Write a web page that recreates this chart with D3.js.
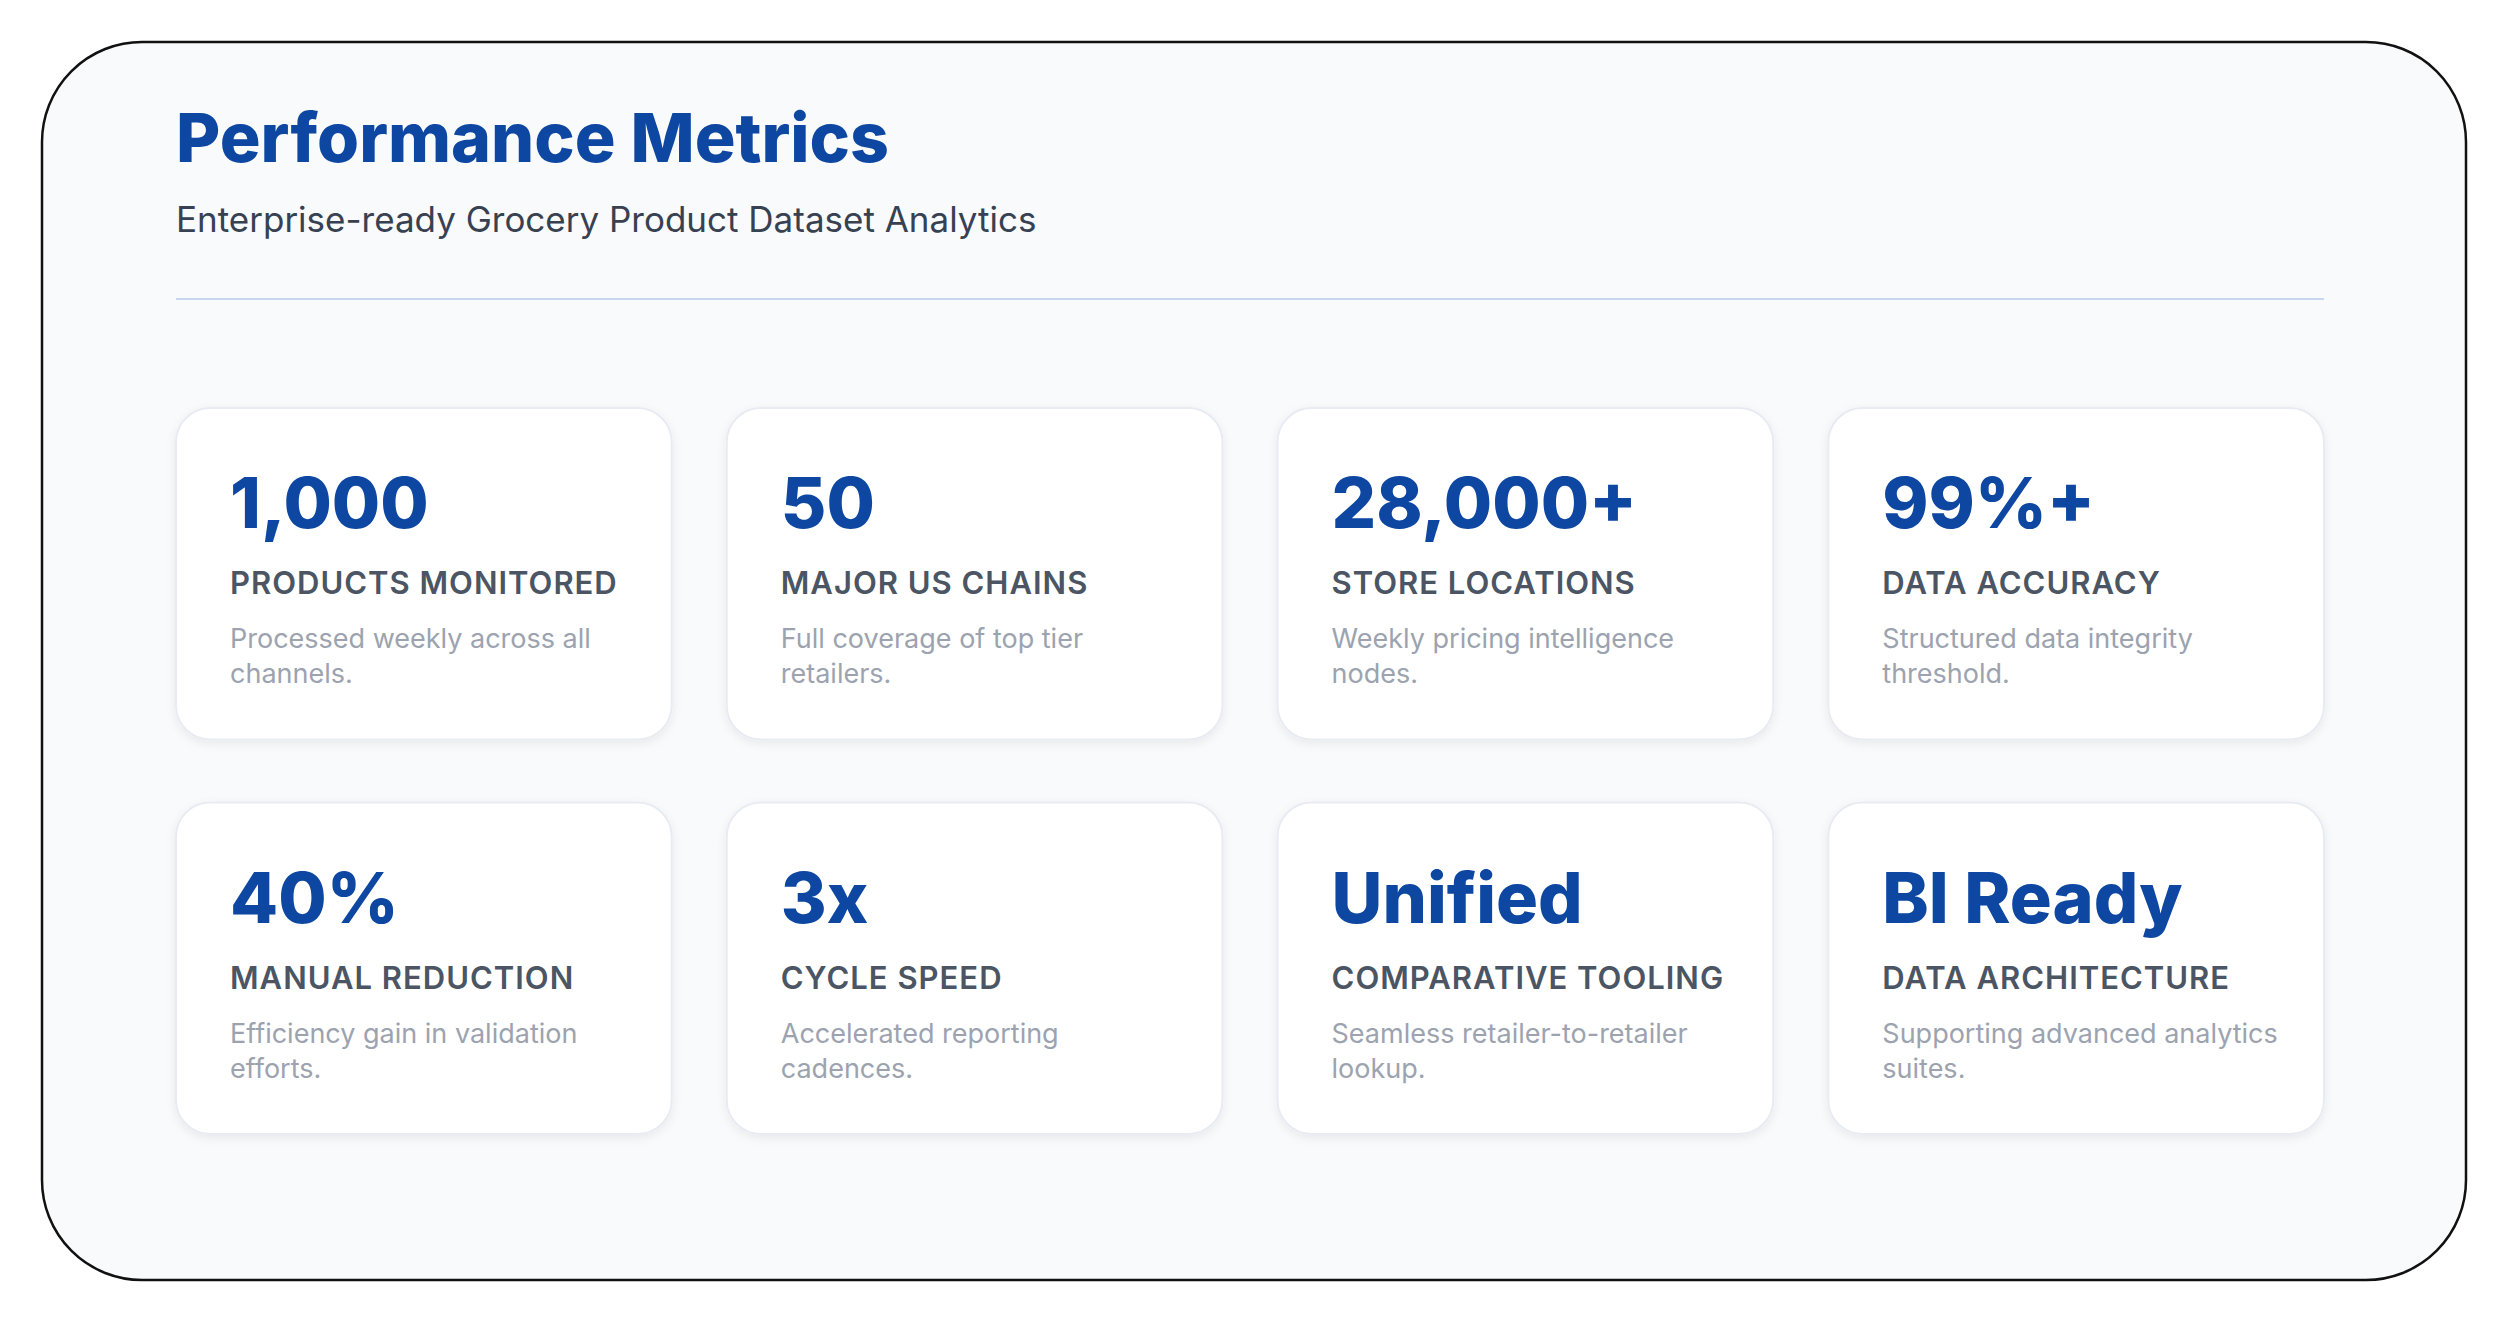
<!DOCTYPE html>
<html><head><meta charset="utf-8">
<script src="https://cdn.jsdelivr.net/npm/d3@7"></script>
<style>html,body{margin:0;padding:0;background:#fff;}svg{display:block;}</style>
</head><body>
<svg id="c" width="2509" height="1321"></svg>
<script>
const values = ["1,000","50","28,000+","99%+","40%","3x","Unified","BI Ready"];
const labels = ["PRODUCTS MONITORED","MAJOR US CHAINS","STORE LOCATIONS","DATA ACCURACY","MANUAL REDUCTION","CYCLE SPEED","COMPARATIVE TOOLING","DATA ARCHITECTURE"];
const descs = [["Processed weekly across all","channels."],["Full coverage of top tier","retailers."],["Weekly pricing intelligence","nodes."],["Structured data integrity","threshold."],["Efficiency gain in validation","efforts."],["Accelerated reporting","cadences."],["Seamless retailer-to-retailer","lookup."],["Supporting advanced analytics","suites."]];
const title = "Performance Metrics";
const subtitle = "Enterprise-ready Grocery Product Dataset Analytics";

const svg = d3.select("#c");
const F = "Inter, 'Noto Sans', sans-serif";
const defs = svg.append("defs");
const f = defs.append("filter").attr("id","sh").attr("x","-10%").attr("y","-10%").attr("width","120%").attr("height","130%");
f.append("feDropShadow").attr("dx",0).attr("dy",3).attr("stdDeviation",5).attr("flood-color","#0f172a").attr("flood-opacity",0.07);

svg.append("rect").attr("x",42).attr("y",42).attr("width",2424).attr("height",1238).attr("rx",100)
  .attr("fill","#f8fafc").attr("stroke","#111").attr("stroke-width",2.5);
svg.append("text").attr("x",176).attr("y",162).text(title).attr("font-family",F).attr("font-weight",800)
  .attr("font-size",68).attr("fill","#0d47a1");
svg.append("text").attr("x",176).attr("y",232).text(subtitle).attr("font-family",F).attr("font-weight",400)
  .attr("font-size",35).attr("fill","#374151");
svg.append("line").attr("x1",176).attr("x2",2324).attr("y1",299).attr("y2",299).attr("stroke","#c9d6ef").attr("stroke-width",2);

const x = d3.scaleBand().domain(d3.range(4)).range([176,2324]).paddingInner(0.1);
const y = d3.scaleBand().domain(d3.range(2)).range([408,1134]).paddingInner(0.16);
const cards = svg.selectAll("g.card").data(values.map((v,i)=>({v,l:labels[i],d:descs[i],c:i%4,r:Math.floor(i/4)})))
  .join("g").attr("class","card").attr("transform",d=>`translate(${x(d.c)},${y(d.r)})`);
cards.append("rect").attr("width",x.bandwidth()).attr("height",y.bandwidth()).attr("rx",34)
  .attr("fill","#fff").attr("stroke","#e8ecf2").attr("stroke-width",2).attr("filter","url(#sh)");
cards.append("text").attr("x",54).attr("y",120).text(d=>d.v).attr("font-family",F).attr("font-weight",800)
  .attr("font-size",70).attr("fill","#0d47a1");
cards.append("text").attr("x",54).attr("y",186).text(d=>d.l).attr("font-family",F).attr("font-weight",600)
  .attr("font-size",31).attr("letter-spacing",1).attr("fill","#4b5563");
cards.each(function(d){
  d3.select(this).selectAll("text.desc").data(d.d).join("text").attr("class","desc")
    .attr("x",54).attr("y",(t,i)=>240+i*35).text(t=>t).attr("font-family",F).attr("font-size",27).attr("fill","#9ca3af");
});
</script>
</body></html>
